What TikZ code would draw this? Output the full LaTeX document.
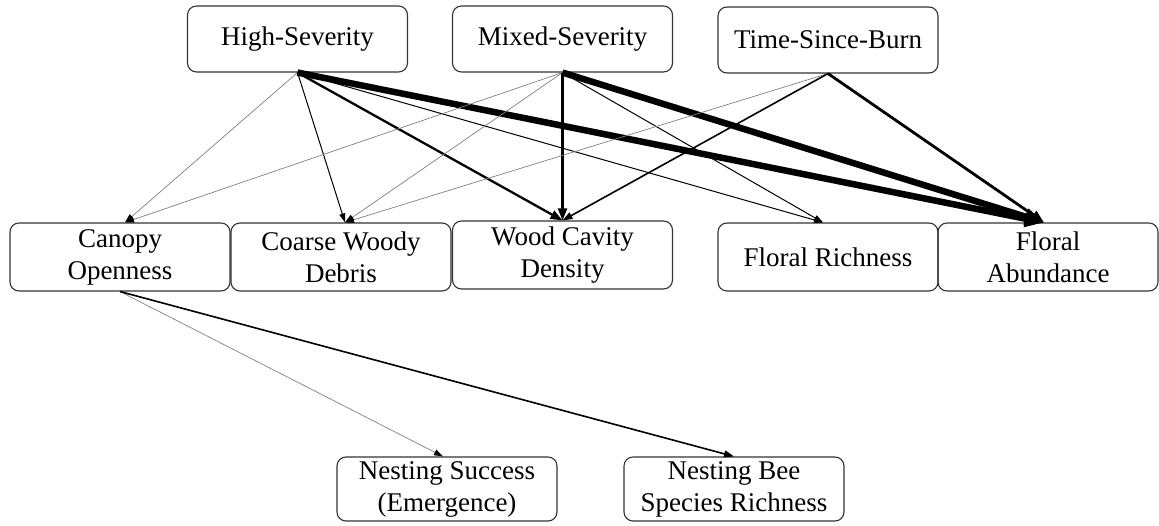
\documentclass[tikz,border=0pt]{standalone}
\usepackage{fontspec}
\setmainfont{Liberation Serif}
\usetikzlibrary{arrows.meta}
\begin{document}
\begin{tikzpicture}[x=1pt,y=-1pt,
  box/.style={draw=black!80, line width=1.1pt, rounded corners=9pt, minimum width=220pt, minimum height=66pt, align=center, inner sep=2pt, font=\fontsize{27}{32}\selectfont},
  midbox/.style={box, minimum height=68pt},
  egray/.style={draw=black!50, line width=0.7pt, -{Triangle[length=9pt,width=6pt,color=black]}},
  eone/.style={draw=black, line width=1pt, -{Triangle[length=9pt,width=6pt]}},
  emed/.style={draw=black, line width=1.6pt, -{Triangle[length=10pt,width=7pt]}},
  etwo/.style={draw=black, line width=2.3pt, -{Triangle[length=12pt,width=9pt]}},
  ethr/.style={draw=black, line width=2.8pt, -{Triangle[length=13pt,width=10pt]}},
  ethick/.style={draw=black, line width=6.5pt, -{Triangle[length=19pt,width=16pt]}}
]
\useasboundingbox (0,0) rectangle (1159,525);
% top row
\node[box] (hs) at (297.5,39) {High-Severity};
\node[box] (ms) at (562.5,39) {Mixed-Severity};
\node[box] (tsb) at (828,40) {Time-Since-Burn};
% middle row
\node[midbox] (co) at (120,257) {Canopy\\Openness};
\node[midbox] (cwd) at (341,257) {Coarse Woody\\Debris};
\node[midbox] (wcd) at (562.5,255) {Wood Cavity\\Density};
\node[midbox] (fr) at (828,257) {Floral Richness};
\node[midbox] (fa) at (1048,257) {Floral\\Abundance};
% bottom row
\node[box, minimum height=64pt] (ns) at (447,489) {Nesting Success\\(Emergence)};
\node[box, minimum height=64pt] (nb) at (734,489) {Nesting Bee\\Species Richness};
% edges from High-Severity
\draw[egray] (hs.south) -- ([xshift=5pt]co.north);
\draw[eone] (hs.south) -- ([xshift=4pt]cwd.north);
\draw[etwo] (hs.south) -- (wcd.north);
\draw[eone] (hs.south) -- ([xshift=-5pt]fr.north);
\draw[ethick] (hs.south) -- ([xshift=-4pt]fa.north);
% edges from Mixed-Severity
\draw[egray] (ms.south) -- ([xshift=5pt]co.north);
\draw[egray] (ms.south) -- ([xshift=4pt]cwd.north);
\draw[etwo] (ms.south) -- (wcd.north);
\draw[eone] (ms.south) -- ([xshift=-5pt]fr.north);
\draw[ethick] (ms.south) -- ([xshift=-4pt]fa.north);
% edges from Time-Since-Burn
\draw[egray] (tsb.south) -- ([xshift=4pt]cwd.north);
\draw[emed] (tsb.south) -- (wcd.north);
\draw[ethr] (tsb.south) -- ([xshift=-4pt]fa.north);
% edges from Canopy Openness
\draw[egray] (co.south) -- ([xshift=-4pt]ns.north);
\draw[emed] (co.south) -- (nb.north);
\end{tikzpicture}
\end{document}
